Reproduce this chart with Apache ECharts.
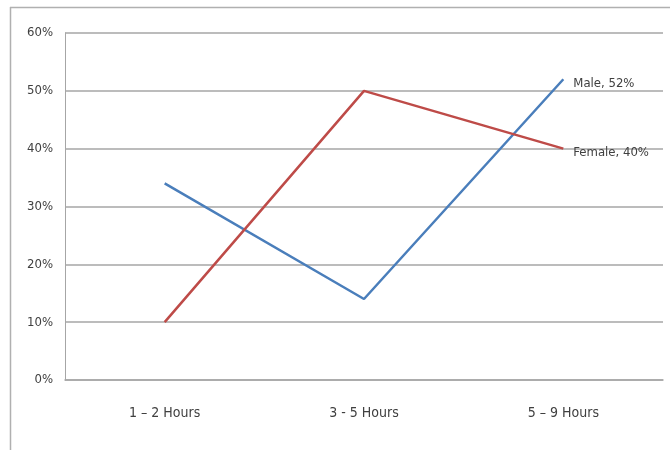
<!DOCTYPE html>
<html>
<head>
<meta charset="utf-8">
<script src="https://cdn.jsdelivr.net/npm/echarts@6/dist/echarts.min.js"></script>
<style>
  html, body { margin: 0; padding: 0; background: #fff; }
  #chart { width: 670px; height: 450px; }
</style>
</head>
<body>
<div id="chart"></div>
<script>
// Hours of use per day, share of respondents by gender
const categories = ['1 – 2 Hours', '3 - 5 Hours', '5 – 9 Hours'];
const maleValues = [34, 14, 52];
const femaleValues = [10, 50, 40];
const yTicks = [0, 10, 20, 30, 40, 50, 60];

const font = '"Liberation Sans Narrow", "DejaVu Sans Condensed", "Open Sans", sans-serif';
const gridGray = '#a6a6a6';

const chart = echarts.init(document.getElementById('chart'), null, { renderer: 'canvas' });

chart.setOption({
  backgroundColor: '#ffffff',
  animation: false,
  grid: { left: 65, right: 7, top: 33, bottom: 70, containLabel: false },
  xAxis: {
    type: 'category',
    data: categories,
    boundaryGap: true,
    axisLine: { show: true, lineStyle: { color: gridGray, width: 1.5 } },
    axisTick: { show: false },
    axisLabel: { color: '#404040', fontFamily: font, fontSize: 14, margin: 26 }
  },
  yAxis: {
    type: 'value',
    min: yTicks[0],
    max: yTicks[yTicks.length - 1],
    interval: 10,
    axisLine: { show: true, lineStyle: { color: gridGray, width: 1 } },
    axisTick: { show: false },
    splitLine: { show: true, lineStyle: { color: gridGray, width: 1.5 } },
    axisLabel: { color: '#404040', fontFamily: font, fontSize: 13, margin: 12, formatter: '{value}%' }
  },
  series: [
    {
      name: 'Male',
      type: 'line',
      data: maleValues,
      symbol: 'none',
      lineStyle: { color: '#4a7ebb', width: 2.5 },
      itemStyle: { color: '#4a7ebb' },
      endLabel: {
        show: true,
        formatter: p => p.seriesName + ', ' + p.value + '%',
        color: '#404040',
        fontFamily: font,
        fontSize: 13,
        distance: 10,
        offset: [0, 4]
      }
    },
    {
      name: 'Female',
      type: 'line',
      data: femaleValues,
      symbol: 'none',
      lineStyle: { color: '#be4b48', width: 2.5 },
      itemStyle: { color: '#be4b48' },
      endLabel: {
        show: true,
        formatter: p => p.seriesName + ', ' + p.value + '%',
        color: '#404040',
        fontFamily: font,
        fontSize: 13,
        distance: 10,
        offset: [0, 4]
      }
    }
  ],
  graphic: [
    { type: 'line', shape: { x1: 10, y1: 7.5, x2: 670, y2: 7.5 }, style: { stroke: '#b0b0b0', lineWidth: 1.5 }, silent: true },
    { type: 'line', shape: { x1: 10.5, y1: 7, x2: 10.5, y2: 450 }, style: { stroke: '#b0b0b0', lineWidth: 1.5 }, silent: true }
  ]
});
</script>
</body>
</html>
